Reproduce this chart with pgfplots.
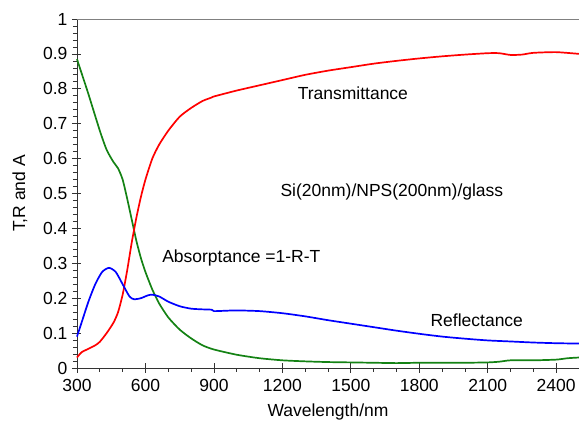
\documentclass[border=0pt]{standalone}
\usepackage{pgfplots}
\pgfplotsset{compat=1.18}
\usepackage{fontspec}
\setmainfont{Liberation Sans}

\pgfplotstableread{
x y
300 0.885
320 0.845
350 0.785
400 0.68
430 0.625
460 0.59
480 0.572
500 0.54
520 0.485
540 0.425
560 0.365
580 0.315
600 0.275
630 0.225
660 0.185
700 0.145
750 0.11
800 0.085
850 0.065
900 0.053
1000 0.038
1100 0.028
1200 0.022
1300 0.019
1400 0.017
1500 0.016
1600 0.015
1700 0.014
1800 0.015
1900 0.015
2000 0.015
2100 0.016
2150 0.018
2200 0.022
2300 0.022
2400 0.024
2450 0.028
2500 0.03
}\absorp

\pgfplotstableread{
x y
300 0.03
320 0.045
350 0.055
380 0.065
400 0.075
430 0.1
460 0.13
480 0.16
500 0.21
520 0.28
540 0.36
560 0.43
580 0.49
600 0.54
630 0.6
660 0.64
700 0.68
750 0.72
800 0.745
850 0.765
890 0.775
900 0.778
1000 0.795
1100 0.81
1200 0.825
1300 0.84
1400 0.852
1500 0.862
1600 0.872
1700 0.88
1800 0.887
1900 0.893
2000 0.898
2100 0.902
2150 0.902
2200 0.897
2250 0.898
2300 0.903
2400 0.905
2500 0.9
}\transm

\pgfplotstableread{
x y
300 0.09
320 0.13
350 0.19
380 0.24
410 0.275
440 0.287
470 0.275
500 0.24
530 0.205
550 0.197
580 0.2
610 0.208
630 0.21
660 0.205
700 0.19
750 0.177
800 0.17
850 0.168
890 0.167
900 0.163
950 0.164
1000 0.165
1100 0.163
1200 0.157
1300 0.148
1400 0.137
1500 0.127
1600 0.117
1700 0.107
1800 0.098
1900 0.09
2000 0.084
2100 0.079
2200 0.076
2300 0.073
2400 0.071
2500 0.07
}\reflect

\definecolor{cgreen}{RGB}{20,130,20}
\newcommand{\fs}{\fontsize{17.5}{20}\selectfont}

\begin{document}
\begin{tikzpicture}
\useasboundingbox (-77pt,-62pt) rectangle (502pt,368pt);
\begin{axis}[
  at={(0,0)}, anchor=south west,
  scale only axis, width=502pt, height=349pt,
  xmin=300, xmax=2500, ymin=0, ymax=1,
  xtick={300,600,...,2400}, ytick={0,0.1,...,1},
  minor x tick num=2, minor y tick num=4,
  axis x line*=bottom, axis y line*=left,
  tick align=outside,
  major tick length=5pt, minor tick length=4pt,
  extra x ticks={300,600,...,2400}, extra x tick labels={},
  extra y ticks={0,0.1,...,1}, extra y tick labels={},
  extra x tick style={tick align=inside, major tick length=4.5pt},
  extra y tick style={tick align=inside, major tick length=4.5pt},
  every tick/.style={black!80, line width=0.7pt},
  axis line style={line width=0.9pt, black!80, -},
  /pgf/number format/assume math mode=true,
  ticklabel style={font=\fs},
  yticklabel style={/pgf/number format/fixed, xshift=-1pt},
  xticklabel style={/pgf/number format/1000 sep={}, yshift=-3pt},
  label style={font=\fs},
  xlabel={Wavelength/nm}, ylabel={T,R and A},
  xlabel style={yshift=0pt}, ylabel style={yshift=4pt},
  every axis plot/.append style={line width=1.7pt, smooth, tension=0.4},
  after end axis/.code={\draw[gray, line width=0.9pt] (rel axis cs:0,1) -- (rel axis cs:1,1);},
  clip=false,
]
\addplot[cgreen] table {\absorp};
\addplot[red] table {\transm};
\addplot[blue] table {\reflect};
\node[font=\fs] at (axis cs:1509,0.788) {Transmittance};
\node[font=\fs] at (axis cs:1680,0.504) {Si(20nm)/NPS(200nm)/glass};
\node[font=\fs] at (axis cs:1020,0.315) {Absorptance =1-R-T};
\node[font=\fs] at (axis cs:2052,0.137) {Reflectance};
\end{axis}
\end{tikzpicture}
\end{document}
